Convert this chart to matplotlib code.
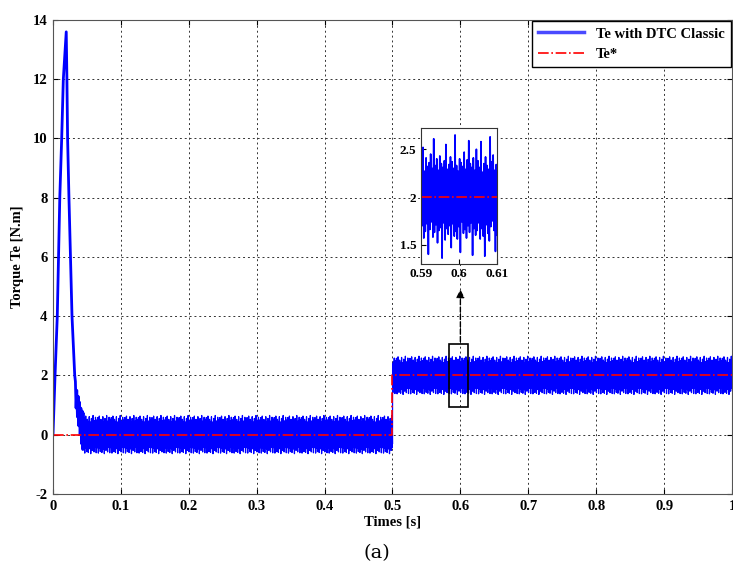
import numpy as np
import matplotlib.pyplot as plt
from matplotlib.lines import Line2D
from matplotlib.patches import Rectangle

plt.rcParams['axes.unicode_minus'] = False

# start-up transient
t_start = [0.0, 0.003, 0.0063, 0.010, 0.0128, 0.0152, 0.0195, 0.0205, 0.0215,
           0.0235, 0.028, 0.032, 0.033, 0.034, 0.035, 0.036, 0.037, 0.038,
           0.039, 0.040, 0.041, 0.042, 0.043, 0.044, 0.045]
te_start = [0.0, 2.0, 4.0, 8.0, 10.0, 12.0, 13.6, 12.0, 10.0,
            8.0, 4.0, 2.0, 1.8, 0.9, 1.5, 0.6, 1.3, 0.3, 1.1,
            0.0, 0.9, -0.3, 0.8, -0.5, 0.7]

# reference torque steps
t_ref = [0.0, 0.5, 0.5, 1.0]
te_ref = [0.0, 0.0, 2.0, 2.0]

# steady-state levels and the switching ripple around them
t_step = 0.5
levels = [0.0, 2.0]
ripple = [0.38, -0.27, 0.31, -0.44, 0.58, -0.33, 0.26, -0.41, 0.35, -0.62,
          0.42, -0.29, 0.33, -0.38, 0.29, -0.46, 0.63, -0.31, 0.37, -0.25,
          0.44, -0.35, 0.28, -0.57, 0.34, -0.40, 0.39, -0.30, 0.52, -0.43,
          0.27, -0.36, 0.41, -0.28, 0.32, -0.60, 0.36, -0.34, 0.45, -0.26,
          0.30, -0.42, 0.61, -0.37, 0.33, -0.29, 0.40, -0.48, 0.28, -0.35,
          0.43, -0.32, 0.35, -0.64, 0.31, -0.27, 0.38, -0.45, 0.55, -0.33,
          0.29, -0.39, 0.34, -0.30, 0.42, -0.53, 0.37, -0.28, 0.30, -0.41,
          0.65, -0.36, 0.33, -0.44, 0.27, -0.31, 0.40, -0.58, 0.36, -0.26,
          0.32, -0.38, 0.47, -0.34, 0.29, -0.43, 0.39, -0.30, 0.59, -0.37,
          0.35, -0.27, 0.31, -0.61, 0.41, -0.33, 0.28, -0.40, 0.50, -0.35]

t = np.arange(0.045, 1.0, 0.0002)
base = np.where(t < t_step, levels[0], levels[1])
rip = np.resize(ripple, t.size)
te = base + rip

font = 'Liberation Serif'
blue = '#0000ff'

fig = plt.figure(figsize=(7.33, 5.65), dpi=100)
ax = fig.add_axes([0.0723, 0.1257, 0.9263, 0.8389])

ax.plot(t_start, te_start, color=blue, lw=2.0)
ax.plot(t, te, color=blue, lw=0.9)
ax.plot(t_ref, te_ref, color='#ff0000', lw=1.2, linestyle='-.')

ax.set_xlim(0, 1)
ax.set_ylim(-2, 14)
ax.set_xticks(np.arange(0, 1.01, 0.1))
ax.set_xticklabels(['0', '0.1', '0.2', '0.3', '0.4', '0.5', '0.6', '0.7', '0.8', '0.9', '1'])
ax.set_yticks(np.arange(-2, 15, 2))
ax.grid(True, color='#333333', linestyle=(0, (2, 3)), linewidth=0.7)
ax.tick_params(direction='in', top=True, right=True, labelsize=10.5, pad=4)
for lab in ax.get_xticklabels() + ax.get_yticklabels():
    lab.set_fontfamily(font)
    lab.set_fontweight('bold')
for s in ax.spines.values():
    s.set_color('#555555')

ax.set_xlabel('Times [s]', fontfamily=font, fontweight='bold', fontsize=10.5, labelpad=2)
ax.set_ylabel('Torque Te [N.m]', fontfamily=font, fontweight='bold', fontsize=10.5, labelpad=6)

handles = [Line2D([], [], color='#4a4aff', lw=2.5),
           Line2D([], [], color='#ff0000', lw=1.2, linestyle='-.')]
leg = ax.legend(handles, ['Te with DTC Classic', 'Te*'], loc='upper right',
                borderaxespad=0.1, fancybox=False, framealpha=1, handlelength=3.2,
                prop={'family': font, 'weight': 'bold', 'size': 10.5})
leg.get_frame().set_edgecolor('black')

# zoom box and arrow
ax.add_patch(Rectangle((0.583, 0.92), 0.028, 2.13, fill=False, edgecolor='black', lw=1.2, zorder=5))
ax.annotate('', xy=(0.6, 5.0), xytext=(0.6, 3.05),
            arrowprops=dict(arrowstyle='-|>', color='black', lw=1.0, linestyle='--',
                            mutation_scale=12))

# inset
axin = fig.add_axes([0.574, 0.533, 0.104, 0.24])
mask = (t >= 0.59) & (t <= 0.61)
axin.plot(t[mask], te[mask], color=blue, lw=1.2)
axin.plot([0.59, 0.61], [2, 2], color='#ff0000', lw=1.2, linestyle='-.')
axin.set_xlim(0.59, 0.61)
axin.set_ylim(1.3, 2.72)
axin.set_xticks([0.59, 0.6, 0.61])
axin.set_xticklabels(['0.59', '0.6', '0.61'])
axin.set_yticks([1.5, 2, 2.5])
axin.set_yticklabels(['1.5', '2', '2.5'])
axin.tick_params(direction='in', labelsize=9.5, pad=3)
for lab in axin.get_xticklabels() + axin.get_yticklabels():
    lab.set_fontfamily(font)
    lab.set_fontweight('bold')
for s in axin.spines.values():
    s.set_color('#333333')

fig.text(0.514, 0.021, '(a)', fontsize=14, ha='center', va='center', fontfamily='DejaVu Serif')

fig.savefig('out.png', dpi=100)
